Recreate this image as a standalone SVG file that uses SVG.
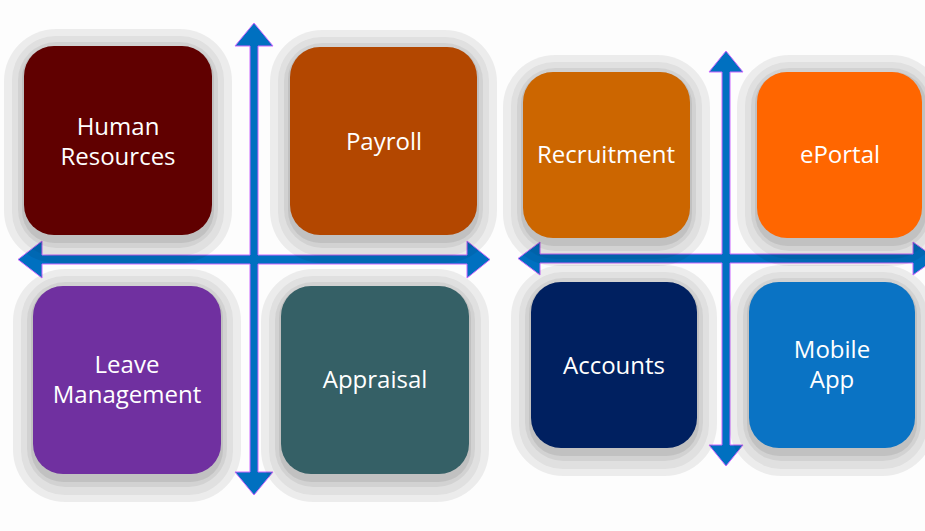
<svg xmlns="http://www.w3.org/2000/svg" width="925" height="531" viewBox="0 0 925 531">
<style>
.g1{fill:#000;fill-opacity:0.065}
.g2{fill:#000;fill-opacity:0.05}
.g3{fill:#000;fill-opacity:0.06}
.g4{fill:#000;fill-opacity:0.08}
.arrow{fill:#0070c0;stroke:#cc66ff;stroke-width:1;stroke-linejoin:miter}
text{font-family:"Open Sans","Noto Sans","Liberation Sans",sans-serif;font-size:24px;fill:#ffffff;text-anchor:middle}
</style>
<rect x="0" y="0" width="925" height="531" fill="#fdfdfd"/>
<g id="connectors">
<polygon class="arrow" points="254,23 273,46 258,46 258,255 467,255 467,241 490,259.5 467,278 467,264 258,264 258,472 273,472 254,495 235,472 250,472 250,264 42,264 42,278 18,259.5 42,241 42,255 250,255 250,46 235,46"/>
<polygon class="arrow" points="726,51 743,72 730,72 730,254 913,254 913,242 936,258.5 913,275 913,263 730,263 730,445 743,445 726,466 709,445 722,445 722,263 540,263 540,275 518,258.5 540,242 540,254 722,254 722,72 709,72"/>
</g>
<g id="human-resources">
<rect class="g1" x="4" y="29" width="228" height="234" rx="52"/>
<rect class="g2" x="12" y="36" width="212" height="220" rx="44"/>
<rect class="g3" x="18" y="42" width="200" height="206" rx="38"/>
<rect class="g4" x="22" y="46" width="192" height="197" rx="32"/>
<rect x="24" y="46" width="188" height="189" rx="30" fill="#600000"/>
<text x="118" y="135">Human</text>
<text x="118" y="165">Resources</text>
</g>
<g id="payroll">
<rect class="g1" x="270" y="30" width="227" height="233" rx="52"/>
<rect class="g2" x="278" y="37" width="211" height="219" rx="44"/>
<rect class="g3" x="284" y="43" width="199" height="205" rx="38"/>
<rect class="g4" x="288" y="47" width="191" height="196" rx="32"/>
<rect x="290" y="47" width="187" height="188" rx="30" fill="#b34700"/>
<text x="384" y="150">Payroll</text>
</g>
<g id="recruitment">
<rect class="g1" x="503" y="55" width="207" height="211" rx="52"/>
<rect class="g2" x="511" y="62" width="191" height="197" rx="44"/>
<rect class="g3" x="517" y="68" width="179" height="183" rx="38"/>
<rect class="g4" x="521" y="72" width="171" height="174" rx="32"/>
<rect x="523" y="72" width="167" height="166" rx="30" fill="#cc6600"/>
<text x="606" y="163">Recruitment</text>
</g>
<g id="eportal">
<rect class="g1" x="737" y="55" width="207" height="211" rx="52"/>
<rect class="g2" x="745" y="62" width="191" height="197" rx="44"/>
<rect class="g3" x="751" y="68" width="179" height="183" rx="38"/>
<rect class="g4" x="755" y="72" width="171" height="174" rx="32"/>
<rect x="757" y="72" width="165" height="166" rx="30" fill="#ff6600"/>
<text x="840" y="163">ePortal</text>
</g>
<g id="leave-management">
<rect class="g1" x="13" y="269" width="228" height="233" rx="52"/>
<rect class="g2" x="21" y="276" width="212" height="219" rx="44"/>
<rect class="g3" x="27" y="282" width="200" height="205" rx="38"/>
<rect class="g4" x="31" y="286" width="192" height="196" rx="32"/>
<rect x="33" y="286" width="188" height="188" rx="30" fill="#7030a0"/>
<text x="127" y="373">Leave</text>
<text x="127" y="403">Management</text>
</g>
<g id="appraisal">
<rect class="g1" x="261" y="269" width="228" height="233" rx="52"/>
<rect class="g2" x="269" y="276" width="212" height="219" rx="44"/>
<rect class="g3" x="275" y="282" width="200" height="205" rx="38"/>
<rect class="g4" x="279" y="286" width="192" height="196" rx="32"/>
<rect x="281" y="286" width="188" height="188" rx="30" fill="#356066"/>
<text x="375" y="388">Appraisal</text>
</g>
<g id="accounts">
<rect class="g1" x="511" y="265" width="206" height="211" rx="52"/>
<rect class="g2" x="519" y="272" width="190" height="197" rx="44"/>
<rect class="g3" x="525" y="278" width="178" height="183" rx="38"/>
<rect class="g4" x="529" y="282" width="170" height="174" rx="32"/>
<rect x="531" y="282" width="166" height="166" rx="30" fill="#002060"/>
<text x="614" y="374">Accounts</text>
</g>
<g id="mobile-app">
<rect class="g1" x="729" y="265" width="206" height="211" rx="52"/>
<rect class="g2" x="737" y="272" width="190" height="197" rx="44"/>
<rect class="g3" x="743" y="278" width="178" height="183" rx="38"/>
<rect class="g4" x="747" y="282" width="170" height="174" rx="32"/>
<rect x="749" y="282" width="166" height="166" rx="30" fill="#0a73c4"/>
<text x="832" y="358">Mobile</text>
<text x="832" y="388">App</text>
</g>
</svg>
